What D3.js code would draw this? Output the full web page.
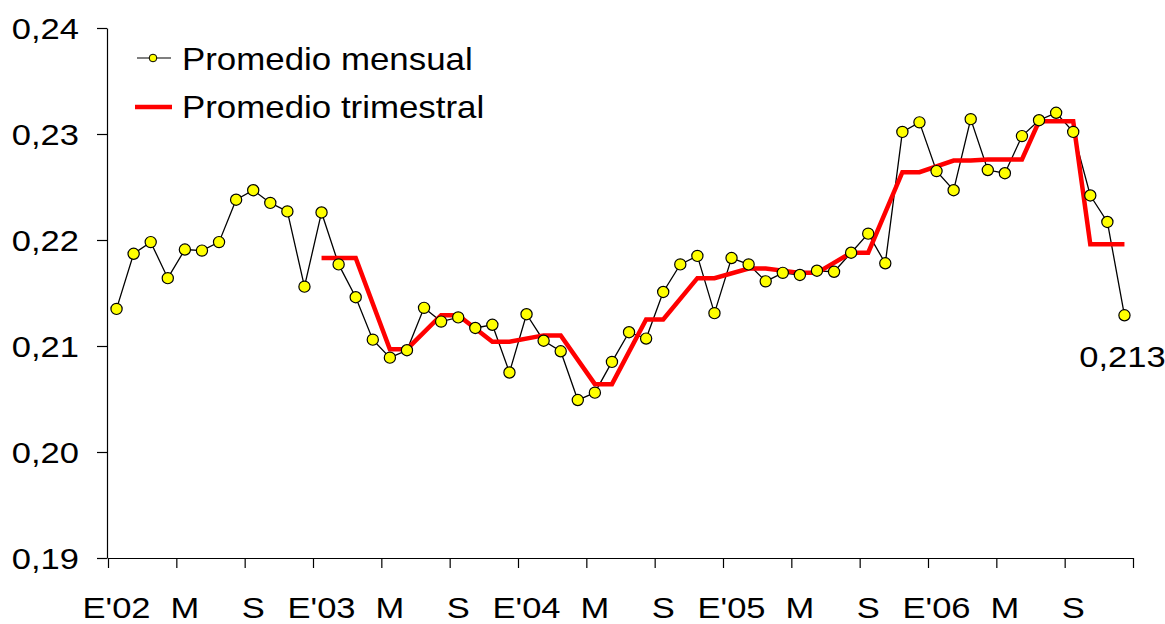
<!DOCTYPE html>
<html>
<head>
<meta charset="utf-8">
<script src="https://cdn.jsdelivr.net/npm/d3@7"></script>
<style>
	body { margin: 0; background: #fff; }
	svg text { font-family: "Liberation Sans", Arial, sans-serif; fill: #000; }
</style>
</head>
<body>
<svg id="chart" width="1165" height="624"></svg>
<script>
// monthly categories, Jan 2002 .. Dec 2006
var MONTHS = [];
[2002, 2003, 2004, 2005, 2006].forEach(function(y) {
	for (var m = 1; m <= 12; m++) MONTHS.push(y + "-" + (m < 10 ? "0" + m : m));
});

// promedio mensual
var MENSUAL = [
	0.2135, 0.2187, 0.2198, 0.2164, 0.2191, 0.2190, 0.2198, 0.2238, 0.2247, 0.2235, 0.2227, 0.2156,
	0.2226, 0.2177, 0.2146, 0.2106, 0.2089, 0.2096, 0.2136, 0.2123, 0.2127, 0.2117, 0.2120, 0.2075,
	0.2130, 0.2105, 0.2095, 0.2049, 0.2056, 0.2085, 0.2113, 0.2107, 0.2151, 0.2177, 0.2185, 0.2131,
	0.2183, 0.2177, 0.2161, 0.2169, 0.2167, 0.2171, 0.2170, 0.2188, 0.2206, 0.2178, 0.2302, 0.2311,
	0.2265, 0.2247, 0.2314, 0.2266, 0.2263, 0.2298, 0.2313, 0.2320, 0.2302, 0.2242, 0.2217, 0.2129
];

// promedio trimestral (quarter value on its months; empty months are bridged by the line)
var TRIMESTRAL = [
	null, null, null, null, null, null, null, null, null, null, null, null,
	0.2183, 0.2183, 0.2183, null, 0.2097, 0.2097, null, 0.2129, 0.2129, null, 0.2104, 0.2104,
	null, 0.2110, 0.2110, null, 0.2064, 0.2064, null, 0.2125, 0.2125, null, 0.2164, 0.2164,
	null, 0.2173, 0.2173, null, 0.2169, 0.2169, null, 0.2188, 0.2188, null, 0.2264, 0.2264,
	null, 0.2275, 0.2275, 0.2276, 0.2276, 0.2276, 0.2312, 0.2312, 0.2312, 0.2196, 0.2196, 0.2196
];

var X_LABELS = ["E'02", "M", "S", "E'03", "M", "S", "E'04", "M", "S", "E'05", "M", "S", "E'06", "M", "S"];
var Y_TICKS = [0.19, 0.20, 0.21, 0.22, 0.23, 0.24];
var LAST_LABEL = "0,213";

var PLOT_L = 108, PLOT_R = 1133, PLOT_T = 28, PLOT_B = 558;
var AXIS_FONT = 29, AXIS_SX = 1.19;
var LEG_FONT = 31, LEG_SX = 1.125;

var svg = d3.select("#chart");

var x = d3.scaleLinear().domain([0, MONTHS.length]).range([PLOT_L, PLOT_R]);
var y = d3.scaleLinear().domain([0.19, 0.24]).range([PLOT_B, PLOT_T]);
function cx(i) { return x(i + 0.5); }

// stretched text, the original has wide glyphs
function addText(parent, tx, ty, str, size, sx, anchor)
{
	return parent.append("text")
		.attr("transform", "translate(" + tx + "," + ty + ") scale(" + sx + ",1)")
		.attr("text-anchor", anchor || "start")
		.style("font-size", size + "px")
		.text(str);
}

// y axis
var yAxis = svg.append("g")
	.attr("transform", "translate(" + (PLOT_L - 1) + ",0)")
	.call(d3.axisLeft(y).tickValues(Y_TICKS).tickSize(10).tickSizeOuter(0).tickFormat(""));
yAxis.selectAll("path, line").attr("stroke", "#000").attr("stroke-width", 1.2);

Y_TICKS.forEach(function(v) {
	addText(svg, 79, y(v) + 10.5, d3.format(".2f")(v).replace(".", ","), AXIS_FONT, AXIS_SX, "end");
});

// x axis
var xAxis = svg.append("g")
	.attr("transform", "translate(0," + PLOT_B + ")")
	.call(d3.axisBottom(x).tickValues(d3.range(0, MONTHS.length + 1, 4)).tickSize(10).tickSizeOuter(0).tickFormat(""));
xAxis.selectAll("path, line").attr("stroke", "#000").attr("stroke-width", 1.2);

X_LABELS.forEach(function(lab, k) {
	addText(svg, cx(k * 4), 618, lab, AXIS_FONT, AXIS_SX, "middle");
});

// monthly line
var lineM = d3.line()
	.x(function(d, i) { return cx(i); })
	.y(function(d) { return y(d); });

svg.append("path")
	.datum(MENSUAL)
	.attr("d", lineM)
	.attr("fill", "none")
	.attr("stroke", "#000")
	.attr("stroke-width", 1.3);

// quarterly line, skipping empty months
var trimPts = [];
TRIMESTRAL.forEach(function(v, i) { if (v != null) trimPts.push([i, v]); });

var lineT = d3.line()
	.x(function(d) { return cx(d[0]); })
	.y(function(d) { return y(d[1]); });

svg.append("path")
	.datum(trimPts)
	.attr("d", lineT)
	.attr("fill", "none")
	.attr("stroke", "#ff0000")
	.attr("stroke-width", 4.5)
	.attr("stroke-linejoin", "miter");

// markers
svg.selectAll("circle.m")
	.data(MENSUAL)
	.enter().append("circle")
	.attr("class", "m")
	.attr("cx", function(d, i) { return cx(i); })
	.attr("cy", function(d) { return y(d); })
	.attr("r", 5.6)
	.attr("fill", "#ffff00")
	.attr("stroke", "#000")
	.attr("stroke-width", 1.2);

// last value label
addText(svg, cx(MONTHS.length - 1) - 2, 367, LAST_LABEL, AXIS_FONT, AXIS_SX, "middle");

// legend
var leg = svg.append("g");
leg.append("line").attr("x1", 137).attr("x2", 171).attr("y1", 58).attr("y2", 58)
	.attr("stroke", "#000").attr("stroke-width", 1.2);
leg.append("circle").attr("cx", 153).attr("cy", 58).attr("r", 3.8)
	.attr("fill", "#ffff00").attr("stroke", "#000").attr("stroke-width", 1);
addText(leg, 182, 70, "Promedio mensual", LEG_FONT, LEG_SX);

leg.append("line").attr("x1", 135).attr("x2", 172).attr("y1", 107).attr("y2", 107)
	.attr("stroke", "#ff0000").attr("stroke-width", 4.5);
addText(leg, 182, 118, "Promedio trimestral", LEG_FONT, LEG_SX);
</script>
</body>
</html>
